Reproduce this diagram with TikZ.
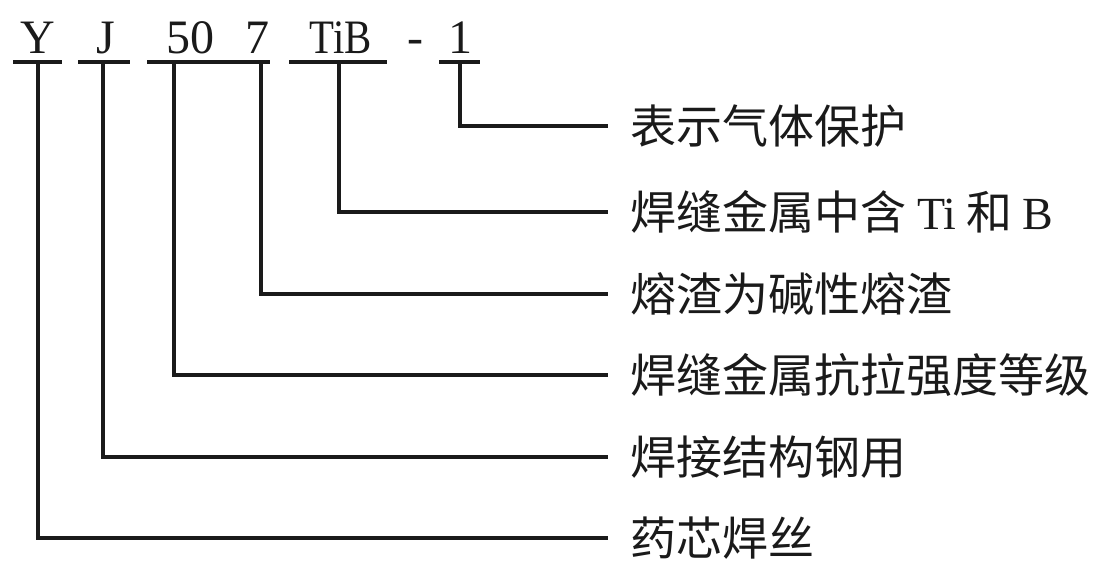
\documentclass[tikz,border=0pt]{standalone}
\usepackage{fontspec}
\setmainfont{Liberation Serif}
\newfontfamily\cjk{Noto Sans CJK SC}
\usetikzlibrary{positioning}
\definecolor{CodeInk}{HTML}{1A1A1A}

\tikzset{
  code/.style={anchor=base,inner sep=0pt,text=CodeInk,
    font=\fontsize{12}{14}\selectfont},
  desc/.style={anchor=west,inner xsep=5.5pt,inner ysep=0pt,text=CodeInk,
    font=\cjk\fontsize{11.5}{13.5}\selectfont},
  rule/.style={CodeInk,line width=0.8pt},
}

\begin{document}
\begin{tikzpicture}[x=0.25pt,y=-0.25pt]
  \useasboundingbox (0,0) rectangle (1099,560);

  % model code
  \node[code] (cY) at (38,53) {Y};
  \node[code] (cJ) at (106,53) {J};
  \node[code] (c50) at (190,53) {50};
  \node[code] (c7) at (257,53) {7};
  \node[code,xscale=0.85] (cTiB) at (341,53) {TiB};
  \node[code] (cDash) at (415,53) {-};
  \node[code] (cOne) at (460,53) {1};

  % underlines
  \draw[rule] (13,62) -- (62,62);
  \draw[rule] (78,62) -- (130,62);
  \draw[rule] (147,62) -- (270,62);
  \draw[rule] (289,62) -- (387,62);
  \draw[rule] (439,62) -- (480,62);

  % taps on the underlines
  \coordinate (tY) at (38,62);
  \coordinate (tJ) at (103,62);
  \coordinate (t50) at (174,62);
  \coordinate (t7) at (261,62);
  \coordinate (tTiB) at (339,62);
  \coordinate (tOne) at (460,62);

  % meanings
  \node[desc] (dOne) at (608,126) {表示气体保护};
  \node[desc] (dTiB) at (608,212) {焊缝金属中含 {\rmfamily Ti} 和 {\rmfamily B}};
  \node[desc] (d7) at (608,294) {熔渣为碱性熔渣};
  \node[desc] (d50) at (608,375) {焊缝金属抗拉强度等级};
  \node[desc] (dJ) at (608,457) {焊接结构钢用};
  \node[desc] (dY) at (608,538) {药芯焊丝};

  % leaders
  \draw[rule] (tOne) |- (dOne.west);
  \draw[rule] (tTiB) |- (dTiB.west);
  \draw[rule] (t7) |- (d7.west);
  \draw[rule] (t50) |- (d50.west);
  \draw[rule] (tJ) |- (dJ.west);
  \draw[rule] (tY) |- (dY.west);
\end{tikzpicture}
\end{document}
